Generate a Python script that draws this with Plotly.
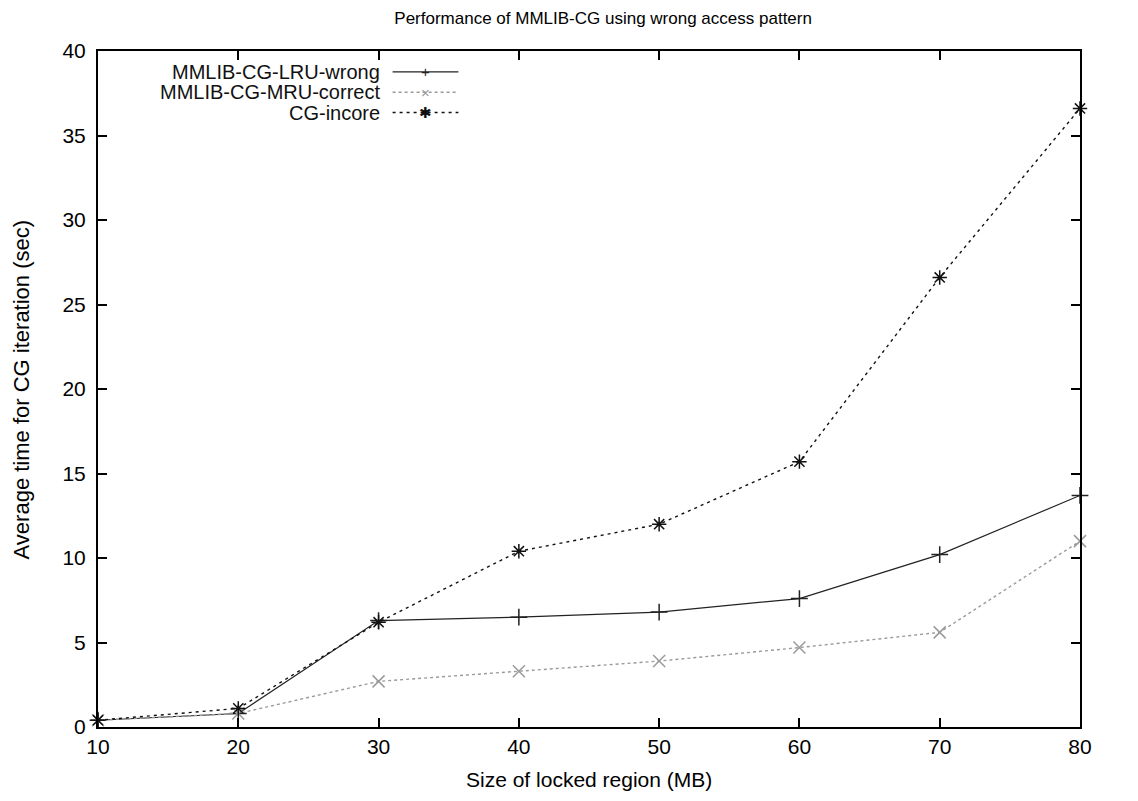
import plotly.graph_objects as go

sizes = [10, 20, 30, 40, 50, 60, 70, 80]
lru_wrong = [0.4, 0.8, 6.3, 6.5, 6.8, 7.6, 10.2, 13.7]
mru_correct = [0.4, 0.8, 2.7, 3.3, 3.9, 4.7, 5.6, 11.0]
cg_incore = [0.4, 1.1, 6.2, 10.4, 12.0, 15.7, 26.6, 36.6]
names = ["MMLIB-CG-LRU-wrong", "MMLIB-CG-MRU-correct", "CG-incore"]

FONT = "Liberation Sans, Arial, Helvetica, sans-serif"

styles = [
    dict(color="#222222", dash="solid", symbol="cross-thin-open", width=1.2),
    dict(color="#9a9a9a", dash="dot", symbol="x-thin-open", width=1.4),
    dict(color="#111111", dash="3px,4px", symbol="asterisk-open", width=1.4),
]

fig = go.Figure()
for name, ys, st in zip(names, [lru_wrong, mru_correct, cg_incore], styles):
    fig.add_trace(go.Scatter(
        x=sizes, y=ys, name=name, mode="lines+markers",
        line=dict(color=st["color"], dash=st["dash"], width=st["width"]),
        marker=dict(symbol=st["symbol"], size=12,
                    line=dict(color=st["color"], width=1.5)),
        showlegend=False, cliponaxis=False,
    ))

# custom legend (text right, sample on right) in paper coordinates
rows_y = [0.969, 0.939, 0.909]
marker_chars = ["+", "\u00d7", "\u2731"]
for name, st, yy, ch in zip(names, styles, rows_y, marker_chars):
    fig.add_annotation(x=0.289, y=yy, xref="paper", yref="paper",
                       text=name, showarrow=False, xanchor="right",
                       yanchor="middle", font=dict(family=FONT, size=20, color="#111"))
    fig.add_shape(type="line", xref="paper", yref="paper",
                  x0=0.300, x1=0.367, y0=yy, y1=yy,
                  line=dict(color=st["color"], dash=st["dash"], width=st["width"]))
    fig.add_annotation(x=0.333, y=yy, xref="paper", yref="paper",
                       text=ch, showarrow=False, xanchor="center",
                       yanchor="middle", font=dict(family=FONT, size=15, color=st["color"]))

# axis titles as annotations for precise placement
fig.add_annotation(x=0.5, y=-0.078, xref="paper", yref="paper",
                   text="Size of locked region (MB)", showarrow=False,
                   xanchor="center", yanchor="middle",
                   font=dict(family=FONT, size=21, color="black"))
fig.add_annotation(x=-0.078, y=0.5, xref="paper", yref="paper",
                   text="Average time for CG iteration (sec)", showarrow=False,
                   textangle=-90, xanchor="center", yanchor="middle",
                   font=dict(family=FONT, size=22, color="black"))

axis_common = dict(
    showgrid=False, zeroline=False, showline=True, linecolor="black",
    linewidth=2, mirror="allticks", ticks="inside", ticklen=9,
    tickcolor="black", tickwidth=1.5, automargin=False,
    tickfont=dict(family=FONT, size=21, color="black"),
)

fig.update_layout(
    width=1138, height=801,
    margin=dict(l=98, r=58, t=51, b=74),
    paper_bgcolor="white", plot_bgcolor="white",
    title=dict(text="Performance of MMLIB-CG using wrong access pattern",
               x=0.530, xanchor="center", y=0.977, yanchor="middle",
               font=dict(family=FONT, size=17, color="black")),
    xaxis=dict(range=[10, 80], dtick=10, tick0=10, **axis_common),
    yaxis=dict(range=[0, 40], dtick=5, ticklabelstandoff=6, **axis_common),
)

fig.write_html("out.html")
